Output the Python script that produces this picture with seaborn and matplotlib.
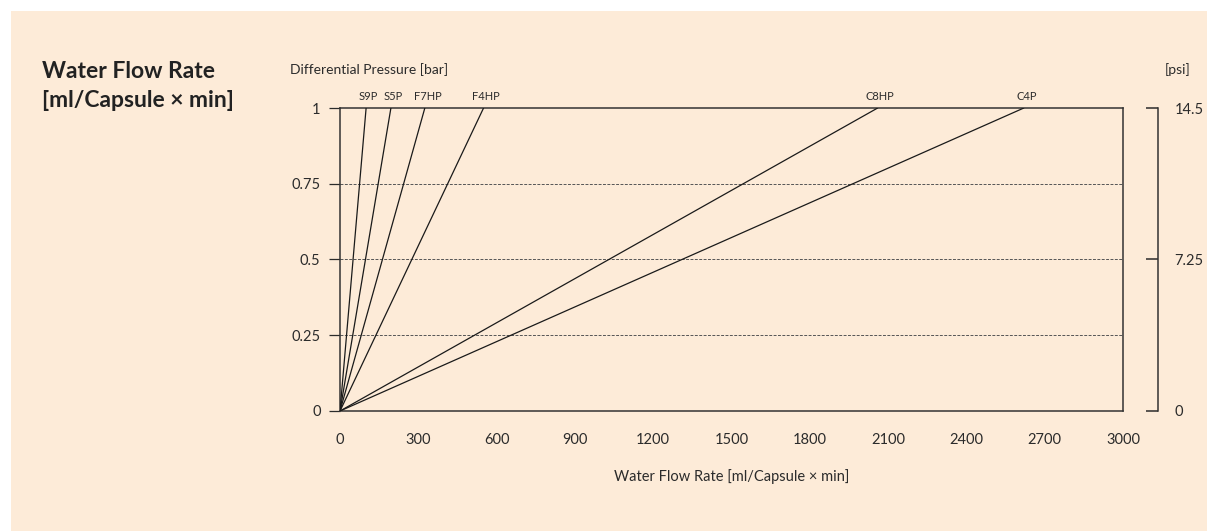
import matplotlib
matplotlib.use("Agg")
import matplotlib.pyplot as plt
import seaborn as sns
import pandas as pd

# flow rate reached at 1 bar for each capsule type
capsules = ["S9P", "S5P", "F7HP", "F4HP", "C8HP", "C4P"]
flow_at_1bar = [100, 195, 325, 550, 2060, 2620]
pressure_bar = [0, 1]

x_ticks = [0, 300, 600, 900, 1200, 1500, 1800, 2100, 2400, 2700, 3000]
y_ticks = [0, 0.25, 0.5, 0.75, 1]
y_labels = ["0", "0.25", "0.5", "0.75", "1"]
psi_ticks = [0, 7.25, 14.5]
psi_labels = ["0", "7.25", "14.5"]

bg = "#fdebd8"
ink = "#2b2b2b"

rows = []
for name, f in zip(capsules, flow_at_1bar):
    for p in pressure_bar:
        rows.append({"capsule": name, "flow": f * p, "pressure": p})
df = pd.DataFrame(rows)

sns.set_style("white")
plt.rcParams["font.family"] = ["Lato", "DejaVu Sans"]
plt.rcParams["text.color"] = ink
plt.rcParams["axes.labelcolor"] = ink
plt.rcParams["xtick.color"] = ink
plt.rcParams["ytick.color"] = ink

fig = plt.figure(figsize=(12.07, 5.31), dpi=100)
fig.patch.set_facecolor(bg)
# white margin strips at top and left
fig.patches.append(plt.Rectangle((0, 1 - 11 / 531), 1, 11 / 531, transform=fig.transFigure,
                                 facecolor="white", edgecolor="none"))
fig.patches.append(plt.Rectangle((0, 0), 11 / 1207, 1, transform=fig.transFigure,
                                 facecolor="white", edgecolor="none"))

ax = fig.add_axes([0.2817, 0.2260, 0.6487, 0.5706])
ax.set_facecolor(bg)

for yv in [0.25, 0.5, 0.75]:
    ax.axhline(yv, color="#555555", lw=0.7, ls=(0, (3, 1.5)), zorder=1)

sns.lineplot(data=df, x="flow", y="pressure", units="capsule", estimator=None,
             color="#1a1a1a", lw=0.9, ax=ax, zorder=3)

for name, f in zip(capsules, flow_at_1bar):
    ax.text(f + 10, 1.02, name, ha="center", va="bottom", fontsize=8, color=ink)

ax.set_xlim(0, 3000)
ax.set_ylim(0, 1)
ax.set_xticks(x_ticks)
ax.set_yticks(y_ticks)
ax.set_yticklabels(y_labels)
ax.tick_params(axis="both", direction="out", length=8, width=0.9, labelsize=10.5, colors=ink)
ax.tick_params(axis="x", pad=8)
ax.tick_params(axis="y", pad=6)
for s in ax.spines.values():
    s.set_color("#333333")
    s.set_linewidth(1.1)
ax.set_xlabel("Water Flow Rate [ml/Capsule × min]", fontsize=10.5, labelpad=16)
ax.set_ylabel("")

# separate psi scale on the right
ax2 = ax.twinx()
ax2.set_ylim(0, 14.5)
ax2.set_yticks(psi_ticks)
ax2.set_yticklabels(psi_labels)
for k in ["top", "bottom", "left"]:
    ax2.spines[k].set_visible(False)
ax2.spines["right"].set_position(("outward", 25))
ax2.spines["right"].set_color("#333333")
ax2.spines["right"].set_linewidth(1.1)
ax2.tick_params(axis="y", direction="in", length=9, width=1.1, pad=12, labelsize=10.5, colors=ink)

fig.text(42 / 1207, 1 - 86 / 531, "Water Flow Rate\n[ml/Capsule × min]", ha="left", va="center",
         fontsize=16.5, fontweight="bold", color="#222222", linespacing=1.5)
fig.text(290 / 1207, 1 - 70 / 531, "Differential Pressure [bar]", ha="left", va="center",
         fontsize=10, color=ink)
fig.text(1190 / 1207, 1 - 70 / 531, "[psi]", ha="right", va="center", fontsize=10, color=ink)

fig.savefig("out.png", dpi=100, facecolor=fig.get_facecolor())
